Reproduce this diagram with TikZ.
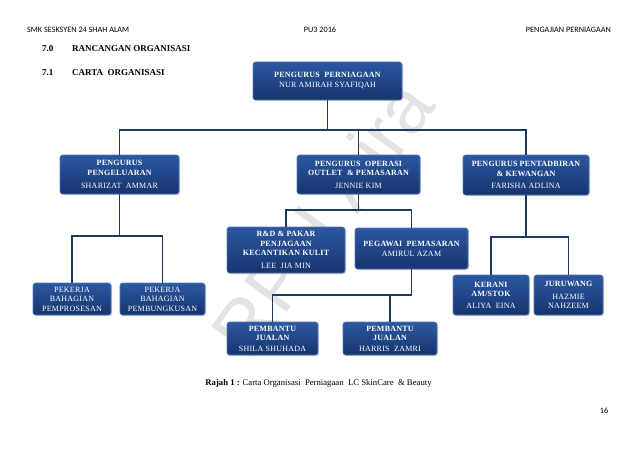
\documentclass[tikz,border=0pt]{standalone}
\usepackage{fontspec}
\setmainfont{Liberation Serif}
\newfontfamily\hdrfont{Carlito}
\newfontfamily\boxfont[LetterSpace=3]{Liberation Serif}
\newfontfamily\wmfont{Liberation Sans}
\usetikzlibrary{shadows}
\definecolor{navy}{HTML}{1F3864}
\definecolor{boxtop}{HTML}{2C58A0}
\definecolor{boxbot}{HTML}{16346F}
\tikzset{
  orgbox/.style={rounded corners=2.5pt, top color=boxtop, bottom color=boxbot,
    draw=boxtop!80!white, line width=0.6pt, text=white, align=center,
    font=\boxfont\fontsize{8}{9.5}\selectfont, inner sep=1pt,
    drop shadow={shadow xshift=1pt, shadow yshift=-1pt, opacity=0.35}},
  conn/.style={draw=navy, line width=1.4pt},
  hdr/.style={font=\hdrfont\fontsize{8.2}{9}\selectfont, inner sep=0pt},
  sec/.style={font=\bfseries\fontsize{9}{10}\selectfont, inner sep=0pt, anchor=west}
}
\begin{document}
\begin{tikzpicture}[x=1pt,y=-1pt]
\useasboundingbox[fill=white] (0,0) rectangle (638,452);
% watermark
\node[font=\wmfont\fontsize{76}{76}\selectfont, text=gray!22, rotate=54, inner sep=0pt] (wm) at (322,218) {RPH Aira};
% header
\node[hdr, anchor=west] (h1) at (27,30) {SMK SESKSYEN 24 SHAH ALAM};
\node[hdr] (h2) at (320,30) {PU3 2016};
\node[hdr, anchor=east] (h3) at (611,30) {PENGAJIAN PERNIAGAAN};
\node[sec] (s70) at (42,49) {7.0};
\node[sec] (s70t) at (72,49) {RANCANGAN ORGANISASI};
\node[sec] (s71) at (42,73) {7.1};
\node[sec] (s71t) at (72,73) {CARTA\ \ ORGANISASI};
% bus coordinates
\coordinate (b1) at (0,130);
\coordinate (b2) at (0,236);
\coordinate (b3) at (0,210);
\coordinate (b4) at (0,295);
\coordinate (b5) at (0,237);
% boxes
\node[orgbox, minimum width=149pt, minimum height=38pt] (top) at (327.5,81)
  {\bfseries PENGURUS\ \ PERNIAGAAN\\[0.5pt] NUR AMIRAH SYAFIQAH};
\node[orgbox, minimum width=119pt, minimum height=39pt] (peng) at (119.5,174.5)
  {\bfseries PENGURUS\\ \bfseries PENGELUARAN\\[4pt] SHARIZAT\ \ AMMAR};
\node[orgbox, minimum width=123pt, minimum height=39pt] (oper) at (358.5,174.5)
  {\bfseries PENGURUS\ \ OPERASI\\ \bfseries OUTLET\ \ \&\ PEMASARAN\\[3pt] JENNIE KIM};
\node[orgbox, minimum width=126pt, minimum height=40pt] (pent) at (526,175)
  {\bfseries PENGURUS PENTADBIRAN\\ \bfseries \& KEWANGAN\\[3pt] FARISHA ADLINA};
\node[orgbox, minimum width=78pt, minimum height=32pt] (prose) at (72,299)
  {PEKERJA\\ BAHAGIAN\\ PEMPROSESAN};
\node[orgbox, minimum width=85pt, minimum height=32pt] (bungk) at (162.5,299)
  {PEKERJA\\ BAHAGIAN\\ PEMBUNGKUSAN};
\node[orgbox, minimum width=118pt, minimum height=46pt] (rnd) at (286,250)
  {\bfseries R\&D \& PAKAR\\ \bfseries PENJAGAAN\\ \bfseries KECANTIKAN KULIT\\[3pt] LEE\ \ JIA MIN};
\node[orgbox, minimum width=113pt, minimum height=41pt] (peg) at (411.5,248.5)
  {\bfseries PEGAWAI\ \ PEMASARAN\\[0.5pt] AMIRUL AZAM};
\node[orgbox, minimum width=91pt, minimum height=33pt] (shila) at (272.5,338.5)
  {\bfseries PEMBANTU\\ \bfseries JUALAN\\[1pt] SHILA SHUHADA};
\node[orgbox, minimum width=94pt, minimum height=33pt] (harris) at (390,338.5)
  {\bfseries PEMBANTU\\ \bfseries JUALAN\\[1pt] HARRIS\ \ ZAMRI};
\node[orgbox, minimum width=76pt, minimum height=40pt] (kerani) at (491,295)
  {\bfseries KERANI\\ \bfseries AM/STOK\\[2pt] ALIYA\ \ EINA};
\node[orgbox, minimum width=69pt, minimum height=40pt] (juru) at (568.5,295)
  {\bfseries JURUWANG\\[3pt] HAZMIE\\ NAHZEEM};
% connectors
\draw[conn] (top.south) -- (top.south |- b1);
\draw[conn] (peng.north) -- (peng.north |- b1) -- (pent.north |- b1) -- (pent.north);
\draw[conn] (oper.north) -- (oper.north |- b1);
\draw[conn] (peng.south) -- (peng.south |- b2);
\draw[conn] (prose.north) -- (prose.north |- b2) -- (bungk.north |- b2) -- (bungk.north);
\draw[conn] (oper.south) -- (oper.south |- b3);
\draw[conn] (rnd.north) -- (rnd.north |- b3) -- (peg.north |- b3) -- (peg.north);
\draw[conn] (peg.south) -- (peg.south |- b4) -- (shila.north |- b4) -- (shila.north);
\draw[conn] (harris.north) -- (harris.north |- b4);
\draw[conn] (pent.south) -- (pent.south |- b5);
\draw[conn] (kerani.north) -- (kerani.north |- b5) -- (juru.north |- b5) -- (juru.north);
% caption and page number
\node[font=\fontsize{8.7}{10}\selectfont, inner sep=0pt] (cap) at (318.5,383)
  {\textbf{Rajah 1 :} Carta Organisasi\ \ Perniagaan\ \ LC SkinCare\ \ \& Beauty};
\node[hdr] (pg) at (604,411) {16};
\end{tikzpicture}
\end{document}
